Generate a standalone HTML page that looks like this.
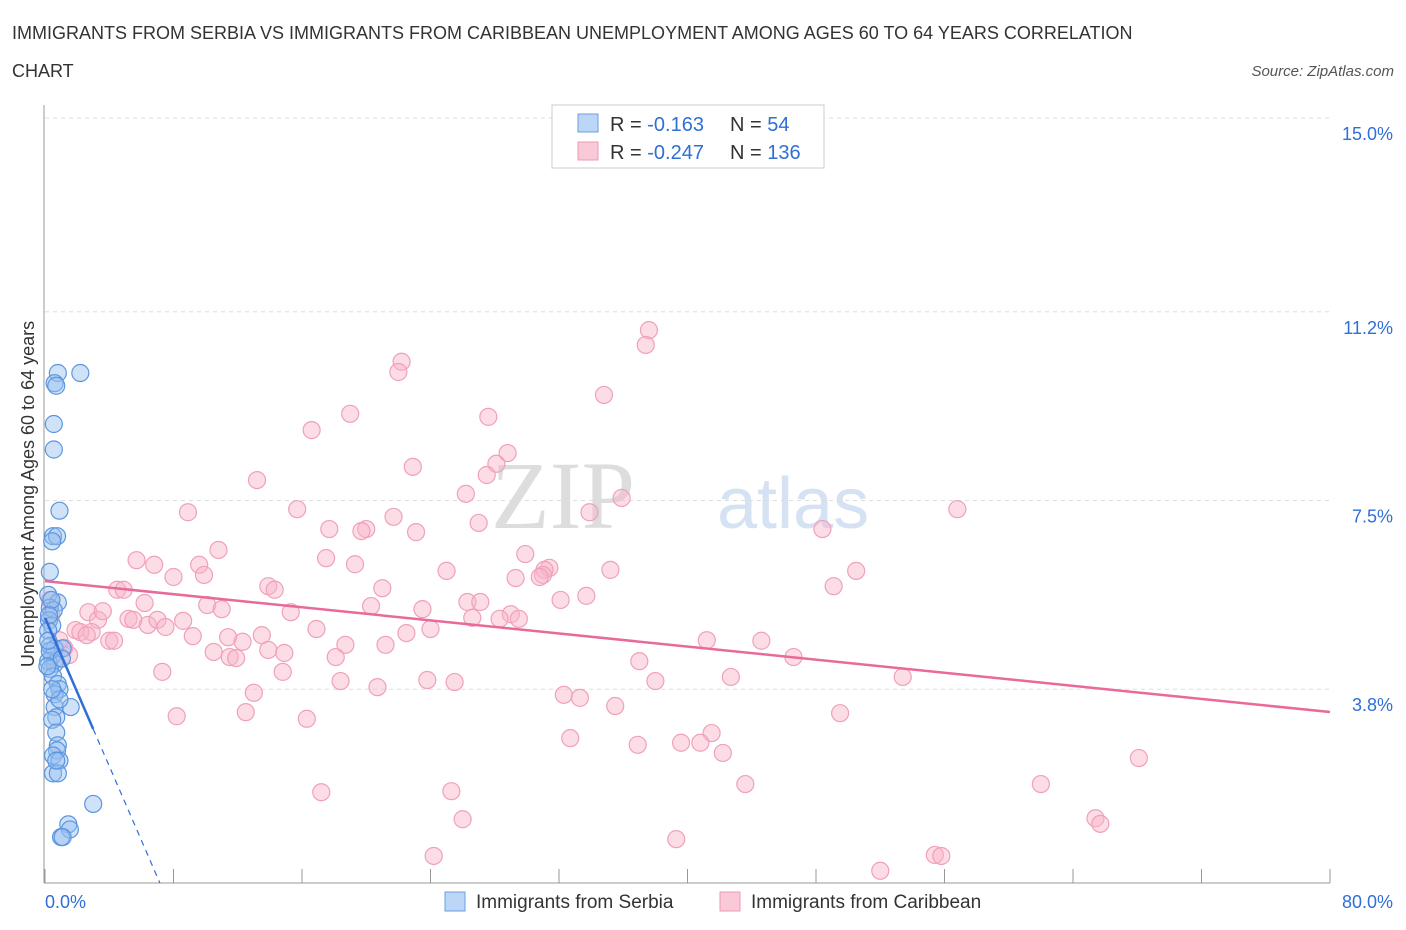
<!DOCTYPE html>
<html><head><meta charset="utf-8"><style>
body{margin:0;background:#fff;font-family:"Liberation Sans",sans-serif}
svg{display:block}
</style></head><body>
<svg id="chart" width="1406" height="930" xmlns="http://www.w3.org/2000/svg">
<text x="12" y="39" font-size="18" fill="#333">IMMIGRANTS FROM SERBIA VS IMMIGRANTS FROM CARIBBEAN UNEMPLOYMENT AMONG AGES 60 TO 64 YEARS CORRELATION</text>
<text x="12" y="77" font-size="18" fill="#333">CHART</text>
<text x="1394" y="76" font-size="15" fill="#555" font-style="italic" text-anchor="end">Source: ZipAtlas.com</text>
<text x="635" y="528" font-size="96" fill="#ddd" text-anchor="end" font-family="Liberation Serif,serif">ZIP</text>
<text x="717" y="528" font-size="72" fill="#d4e2f4">atlas</text>
<g id="grid"></g>
<g id="axes"></g>
<g id="pinkpts"></g>
<g id="bluepts"></g>
<g id="lines"></g>
<g>
<rect x="552" y="105" width="272" height="63" fill="#fff" stroke="#ccc"/>
<rect x="578" y="114" width="20" height="18" fill="#bcd6f7" stroke="#6d9de0"/>
<rect x="578" y="142" width="20" height="18" fill="#f9c9d7" stroke="#ec9ab5"/>
<text x="610" y="131" font-size="20" fill="#333">R = <tspan fill="#2f6fd6"> -0.163</tspan></text>
<text x="730" y="131" font-size="20" fill="#333">N = <tspan fill="#2f6fd6">  54</tspan></text>
<text x="610" y="159" font-size="20" fill="#333">R = <tspan fill="#2f6fd6">-0.247</tspan></text>
<text x="730" y="159" font-size="20" fill="#333">N = <tspan fill="#2f6fd6">136</tspan></text>
</g>
<g>
<rect x="445" y="892" width="20" height="19" fill="#bcd6f7" stroke="#6d9de0"/>
<text x="476" y="908" font-size="19" fill="#333">Immigrants from Serbia</text>
<rect x="720" y="892" width="20" height="19" fill="#f9c9d7" stroke="#ec9ab5"/>
<text x="751" y="908" font-size="19" fill="#333">Immigrants from Caribbean</text>
</g>
<text transform="translate(34,494) rotate(-90)" font-size="18" fill="#333" text-anchor="middle">Unemployment Among Ages 60 to 64 years</text>
</svg>
<script>
const yTicks=[15.0,11.2,7.5,3.8];
const xTickLabels=["0.0%","80.0%"];
const blueX=[0.8,2.2,0.6,0.7,0.55,0.55,0.9,0.5,0.75,0.45,0.3,0.2,0.8,0.3,0.55,0.25,0.45,0.2,0.3,0.6,1.1,0.45,0.2,0.6,0.3,0.5,0.8,0.9,0.6,1.6,0.6,0.7,0.45,0.7,0.8,0.75,0.5,0.9,0.5,0.8,3.0,1.45,1.55,1.0,1.1,0.3,0.15,0.9,0.45,0.2,1.05,0.4,0.25,0.7];
const blueY=[10.0,10.0,9.8,9.75,9.0,8.5,7.3,6.8,6.8,6.7,6.1,5.65,5.5,5.4,5.35,5.15,5.05,4.95,4.65,4.6,4.6,4.45,4.35,4.3,4.2,4.05,3.9,3.8,3.7,3.45,3.45,3.25,3.2,2.95,2.7,2.6,2.5,2.4,2.15,2.15,1.55,1.15,1.05,0.9,0.9,4.55,4.25,3.6,3.8,4.75,4.4,5.55,5.25,2.4];
const pinkX=[37.6,37.4,22.2,22.0,34.8,19.0,27.6,16.6,28.8,22.9,28.1,27.5,13.2,26.2,35.9,8.9,15.7,33.9,56.8,21.7,27.0,17.7,20.0,19.7,23.1,48.4,10.8,29.9,5.7,17.5,6.8,9.6,19.3,31.4,31.1,35.2,50.5,25.0,8.0,9.9,31.0,29.3,30.8,21.0,13.9,14.3,49.1,4.5,4.9,6.2,32.1,33.7,10.1,11.0,15.3,20.3,26.3,27.1,23.5,2.7,3.3,3.6,2.9,5.2,5.5,6.4,7.0,8.6,7.5,26.6,29.0,28.3,29.5,16.9,24.0,1.9,2.2,2.6,4.0,4.3,9.2,11.4,22.5,13.5,18.7,12.3,13.9,14.9,10.5,11.5,11.9,21.2,41.2,44.6,18.1,46.6,1.2,0.9,1.5,0.6,7.3,14.8,37.0,42.7,38.0,20.7,18.4,23.8,25.5,53.4,13.0,32.3,33.3,8.2,12.5,16.3,35.5,49.5,32.7,41.5,36.9,39.6,40.8,42.2,68.1,43.6,62.0,17.2,25.3,26.0,65.4,65.7,39.3,24.2,55.4,55.8,52.0,0.3,0.4];
const pinkY=[10.84,10.55,10.22,10.02,9.57,9.2,9.14,8.88,8.43,8.16,8.22,8.0,7.9,7.63,7.55,7.27,7.33,7.27,7.33,7.18,7.06,6.94,6.94,6.9,6.88,6.94,6.53,6.45,6.33,6.37,6.24,6.24,6.25,6.18,6.14,6.14,6.12,6.12,6.0,6.04,6.04,5.98,6.0,5.78,5.82,5.75,5.82,5.75,5.75,5.49,5.55,5.63,5.45,5.37,5.31,5.43,5.51,5.51,5.37,5.31,5.16,5.33,4.92,5.18,5.16,5.06,5.16,5.14,5.02,5.2,5.27,5.18,5.18,4.98,4.98,4.96,4.92,4.86,4.75,4.75,4.84,4.82,4.9,4.86,4.67,4.73,4.57,4.51,4.53,4.43,4.41,4.67,4.76,4.75,4.43,4.43,4.61,4.76,4.47,4.37,4.14,4.14,4.35,4.04,3.96,3.84,3.96,3.98,3.94,4.04,3.73,3.69,3.63,3.27,3.35,3.22,3.47,3.33,2.84,2.94,2.71,2.75,2.75,2.55,2.45,1.94,1.94,1.78,1.8,1.25,1.27,1.16,0.86,0.53,0.55,0.53,0.24,5.55,5.25];
const blueTrend=[5.2,-0.727];
const pinkTrend=[5.92,-0.0321];
const NS="http://www.w3.org/2000/svg";
const X0=45,X1=1330,Y0=883,YPX=51;
function sx(v){return X0+v*(X1-X0)/80;}
function sy(v){return Y0-v*YPX;}
function mk(tag,attrs,parent){const e=document.createElementNS(NS,tag);for(const k in attrs)e.setAttribute(k,attrs[k]);parent.appendChild(e);return e;}
const grid=document.getElementById('grid'),axes=document.getElementById('axes');
yTicks.forEach(t=>{
 const l=mk('line',{x1:45,x2:1330,y1:sy(t),y2:sy(t),stroke:'#ddd','stroke-dasharray':'4,4'},grid);
 
 
 const tx=mk('text',{x:1393,y:sy(t)+22,'font-size':18,fill:'#2f6fd6','text-anchor':'end'},axes);
 tx.textContent=t.toFixed(1)+'%';
 
 
});
const ax=mk('line',{x1:44,x2:44,y1:105,y2:883,stroke:'#999'},axes);


const bx=mk('line',{x1:44,x2:1330,y1:883,y2:883,stroke:'#999'},axes);


for(let i=0;i<=10;i++){
 const tk=mk('line',{x1:sx(i*8),x2:sx(i*8),y1:869,y2:883,stroke:'#999'},axes);
 
 
}
const xl0=mk('text',{x:45,y:908,'font-size':18,fill:'#2f6fd6'},axes);
xl0.textContent=xTickLabels[0];


const xl1=mk('text',{x:1393,y:908,'font-size':18,fill:'#2f6fd6','text-anchor':'end'},axes);
xl1.textContent=xTickLabels[1];


const pg=document.getElementById('pinkpts');
pinkX.forEach((x,i)=>{
 const c=mk('circle',{cx:sx(x),cy:sy(pinkY[i]),r:8.5,fill:'rgba(248,180,200,0.45)',stroke:'#f0a0ba','stroke-width':1.2},pg);
 
 
});
const bg=document.getElementById('bluepts');
blueX.forEach((x,i)=>{
 const c=mk('circle',{cx:sx(x),cy:sy(blueY[i]),r:8.5,fill:'rgba(150,190,240,0.45)',stroke:'#5a95e0','stroke-width':1.2},bg);
 
 
});
const lg=document.getElementById('lines');
const pl=mk('line',{x1:sx(0),y1:sy(pinkTrend[0]),x2:sx(80),y2:sy(pinkTrend[0]+pinkTrend[1]*80),stroke:'#e8699a','stroke-width':2.5},lg);


const bl=mk('line',{x1:sx(0),y1:sy(blueTrend[0]),x2:sx(3),y2:sy(blueTrend[0]+blueTrend[1]*3),stroke:'#2f6fd6','stroke-width':2.5},lg);


const xe=-blueTrend[0]/blueTrend[1];
const bd=mk('line',{x1:sx(3),y1:sy(blueTrend[0]+blueTrend[1]*3),x2:sx(xe),y2:sy(0),stroke:'#2f6fd6','stroke-width':1.2,'stroke-dasharray':'6,5'},lg);


</script>
</body></html>
